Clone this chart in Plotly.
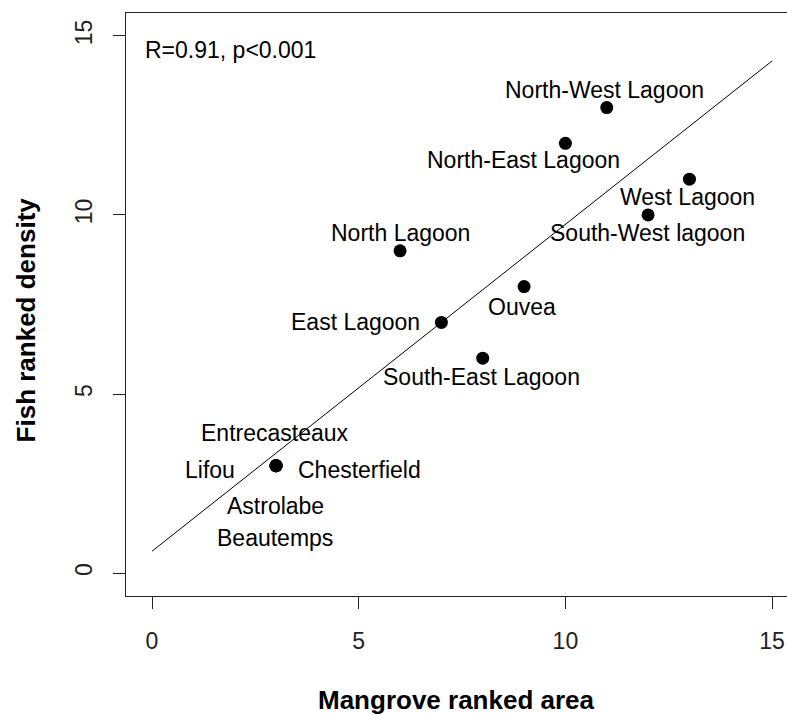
import numpy as np
import plotly.graph_objects as go

# Data
sites = ["Entrecasteaux", "Lifou", "Chesterfield", "Astrolabe", "Beautemps",
         "North Lagoon", "East Lagoon", "South-East Lagoon", "Ouvea",
         "North-East Lagoon", "North-West Lagoon", "South-West lagoon", "West Lagoon"]
mangrove_rank = [3, 3, 3, 3, 3, 6, 7, 8, 9, 10, 11, 12, 13]
fish_rank = [3, 3, 3, 3, 3, 9, 7, 6, 8, 12, 13, 10, 11]
tick_vals = [0, 5, 10, 15]
stat_text = "R=0.91, p<0.001"

# Label placement (pixel offsets from the point, anchor)
label_place = {
    "Entrecasteaux": (-1, 33, "center"),
    "Lifou": (-39, -4, "right"),
    "Chesterfield": (20, -4, "left"),
    "Astrolabe": (-1, -40, "center"),
    "Beautemps": (-1, -72, "center"),
    "North Lagoon": (0, 18, "center"),
    "East Lagoon": (-19, 0, "right"),
    "South-East Lagoon": (-1, -19, "center"),
    "Ouvea": (-2, -20, "center"),
    "North-East Lagoon": (-42, -17, "center"),
    "North-West Lagoon": (-2, 18, "center"),
    "South-West lagoon": (-1, -18, "center"),
    "West Lagoon": (-2, -18, "center"),
}

FONT = "Liberation Sans, Arial, sans-serif"
FS = 23

slope, intercept = np.polyfit(mangrove_rank, fish_rank, 1)
line_x = [0, 15]
line_y = [intercept + slope * v for v in line_x]

fig = go.Figure()
fig.add_trace(go.Scatter(x=line_x, y=line_y, mode="lines",
                         line=dict(color="black", width=1), showlegend=False,
                         hoverinfo="skip"))
fig.add_trace(go.Scatter(x=mangrove_rank, y=fish_rank, mode="markers",
                         marker=dict(color="black", size=13), showlegend=False))

ann = []
for s, xv, yv in zip(sites, mangrove_rank, fish_rank):
    dx, dy, anc = label_place[s]
    ann.append(dict(x=xv, y=yv, xref="x", yref="y", text=s, showarrow=False,
                    xshift=dx, yshift=dy, xanchor=anc, yanchor="middle",
                    font=dict(family=FONT, size=FS, color="black")))
ann.append(dict(x=-0.22, y=14.6, xref="x", yref="y", text=stat_text, showarrow=False,
                xanchor="left", yanchor="middle",
                font=dict(family=FONT, size=FS, color="black")))
ann.append(dict(x=0.5, y=-0.178, xref="paper", yref="paper", text="<b>Mangrove ranked area</b>",
                showarrow=False, xanchor="center", yanchor="middle",
                font=dict(family=FONT, size=26, color="black")))
ann.append(dict(x=-0.151, y=0.473, xref="paper", yref="paper", text="<b>Fish ranked density</b>",
                showarrow=False, xanchor="center", yanchor="middle", textangle=-90,
                font=dict(family=FONT, size=26, color="black")))

axis_common = dict(showgrid=False, zeroline=False, showline=True, linecolor="#222",
                   linewidth=1, ticks="outside", ticklen=12, tickcolor="#222",
                   tickvals=tick_vals, tickfont=dict(family=FONT, size=FS, color="#222"))

fig.update_layout(
    width=787, height=715,
    margin=dict(l=126, r=0, t=13, b=119),
    plot_bgcolor="white", paper_bgcolor="white",
    xaxis=dict(range=[-0.629, 15.36], mirror=True, ticklabelstandoff=12, **axis_common),
    yaxis=dict(range=[-0.64, 15.64], tickangle=-90, ticklabelstandoff=12, **axis_common),
    annotations=ann,
)

fig.write_html("out.html", config={"displayModeBar": False},
               post_script="document.body.style.margin='0px';document.body.style.overflow='hidden';")
